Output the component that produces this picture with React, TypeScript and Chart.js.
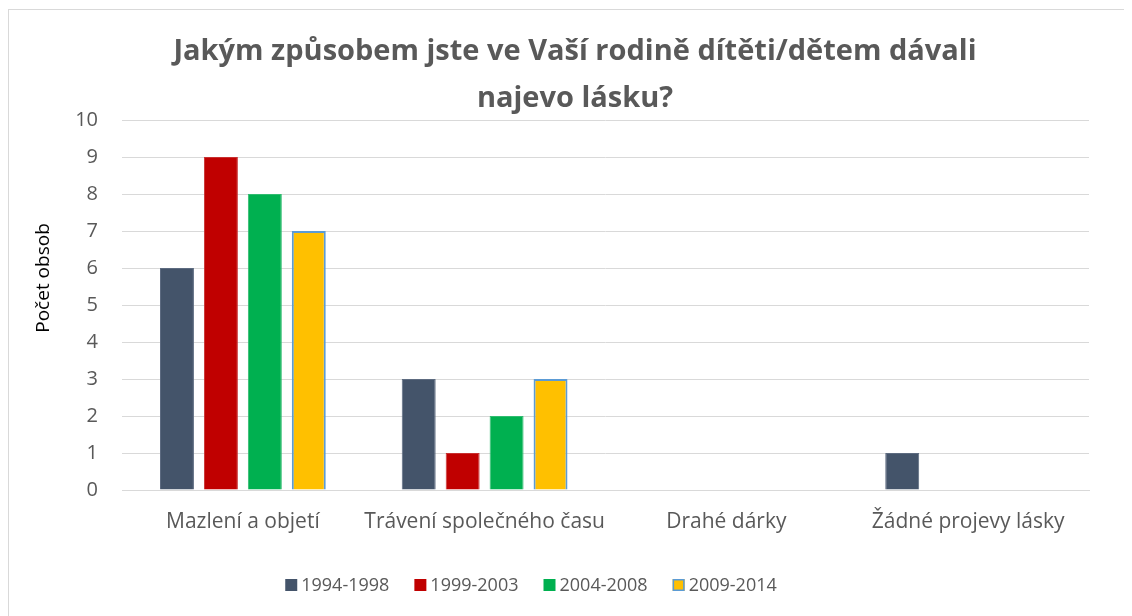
import React, { useEffect, useRef } from "react";
import { Chart, registerables } from "chart.js";

Chart.register(...registerables);

const categories = ["Mazlení a objetí", "Trávení společného času", "Drahé dárky", "Žádné projevy lásky"];
const seriesLabels = ["1994-1998", "1999-2003", "2004-2008", "2009-2014"];
const s1994 = [6, 3, 0, 1];
const s1999 = [9, 1, 0, 0];
const s2004 = [8, 2, 0, 0];
const s2009 = [7, 3, 0, 0];
const titleLines = ["Jakým způsobem jste ve Vaší rodině dítěti/dětem dávali", "najevo lásku?"];
const yTitle = "Počet obsob";

const FONT = "'Open Sans', 'Noto Sans', sans-serif";
const GRAY = "#595959";

const textPlugin = {
  id: "excelText",
  afterDraw(chart: any) {
    const ctx = chart.ctx as CanvasRenderingContext2D;
    ctx.save();
    // title
    ctx.fillStyle = GRAY;
    ctx.font = `bold 29px ${FONT}`;
    ctx.textAlign = "center";
    ctx.textBaseline = "alphabetic";
    ctx.fillText(titleLines[0], 566, 50);
    ctx.fillText(titleLines[1], 566, 97);
    // y axis title
    ctx.save();
    ctx.translate(35, 268);
    ctx.rotate(-Math.PI / 2);
    ctx.fillStyle = "#000";
    ctx.font = `19px ${FONT}`;
    ctx.textAlign = "center";
    ctx.textBaseline = "middle";
    ctx.fillText(yTitle, 0, 0);
    ctx.restore();
    // legend
    ctx.font = `18px ${FONT}`;
    ctx.textAlign = "left";
    ctx.textBaseline = "middle";
    const ds = chart.data.datasets;
    const widths = ds.map((d: any) => ctx.measureText(d.label).width);
    const box = 12, gap = 4, spacing = 25;
    const total = widths.reduce((a: number, w: number) => a + box + gap + w, 0) + spacing * (ds.length - 1);
    let x = 522 - total / 2;
    const cy = 575;
    ds.forEach((d: any, i: number) => {
      ctx.fillStyle = d.backgroundColor;
      ctx.fillRect(x, cy - box / 2, box, box);
      if (d.borderWidth >= 2) {
        ctx.strokeStyle = d.borderColor;
        ctx.lineWidth = 1.5;
        ctx.strokeRect(x + 0.75, cy - box / 2 + 0.75, box - 1.5, box - 1.5);
      }
      ctx.fillStyle = GRAY;
      ctx.fillText(d.label, x + box + gap, cy + 1);
      x += box + gap + widths[i] + spacing;
    });
    ctx.restore();
  },
};

export default function App() {
  const ref = useRef<HTMLCanvasElement | null>(null);
  useEffect(() => {
    if (!ref.current) return;
    const chart = new Chart(ref.current, {
      type: "bar",
      data: {
        labels: categories,
        datasets: [
          { label: seriesLabels[0], data: s1994, backgroundColor: "#44546A", borderColor: "#5d6b80", borderWidth: 1 },
          { label: seriesLabels[1], data: s1999, backgroundColor: "#C00000", borderColor: "#c83030", borderWidth: 1 },
          { label: seriesLabels[2], data: s2004, backgroundColor: "#00B050", borderColor: "#30bc70", borderWidth: 1 },
          { label: seriesLabels[3], data: s2009, backgroundColor: "#FFC000", borderColor: "#5B9BD5", borderWidth: 2 },
        ],
      },
      options: {
        responsive: true,
        maintainAspectRatio: false,
        animation: false,
        datasets: { bar: { categoryPercentage: 0.727, barPercentage: 0.773 } },
        layout: { padding: { left: 20, right: 43, top: 110, bottom: 0 } },
        plugins: {
          title: { display: false },
          legend: { display: false },
          tooltip: { enabled: false },
        },
        scales: {
          x: {
            grid: { display: false },
            border: { color: "#D9D9D9" },
            ticks: { color: GRAY, font: { family: FONT, size: 21 }, padding: 11, maxRotation: 0, minRotation: 0, autoSkip: false },
            afterFit: (s: any) => { s.height = 126; },
          },
          y: {
            min: 0,
            max: 10,
            ticks: { stepSize: 1, color: GRAY, font: { family: FONT, size: 20 }, padding: 24 },
            grid: { color: "#D9D9D9", drawTicks: false },
            border: { display: false },
            afterFit: (s: any) => { s.width = 93; },
          },
        },
      },
      plugins: [textPlugin],
    });
    return () => chart.destroy();
  }, []);
  return (
    <div style={{ marginTop: 1, width: 1123, height: 606, borderLeft: "1px solid #D9D9D9", borderTop: "1px solid #D9D9D9", background: "#fff", position: "relative" }}>
      <canvas ref={ref} />
    </div>
  );
}
